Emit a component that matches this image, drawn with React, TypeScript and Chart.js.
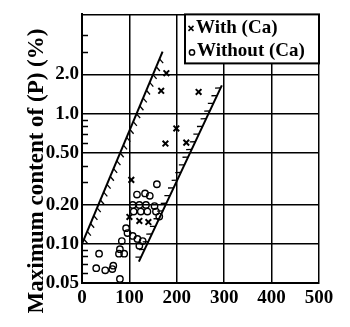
import React, { useEffect, useRef } from 'react';
import { Chart, registerables } from 'chart.js';

Chart.register(...registerables);

// With (Ca): crosses
const withCaX = [178, 167, 246, 199, 176, 220, 104, 100, 121, 140];
const withCaY = [2.05, 1.5, 1.47, 0.77, 0.59, 0.6, 0.31, 0.161, 0.15, 0.147];

// Without (Ca): circles
const withoutCaX = [158, 116, 133, 143, 107, 121, 135, 153, 109, 124, 138, 156, 163, 93, 96, 84, 107, 117, 128, 121, 80, 78, 89, 36, 30, 49, 64, 66, 80];
const withoutCaY = [0.287, 0.239, 0.244, 0.234, 0.199, 0.199, 0.199, 0.195, 0.177, 0.177, 0.177, 0.177, 0.162, 0.132, 0.121, 0.105, 0.115, 0.109, 0.105, 0.0966, 0.091, 0.084, 0.084, 0.084, 0.065, 0.0626, 0.064, 0.068, 0.0537];

// Band boundaries
const bandLeftX = [0, 170];
const bandLeftY = [0.1, 3.0];
const bandRightX = [120, 295];
const bandRightY = [0.073, 1.65];

// Axes
const xTicks = [0, 100, 200, 300, 400, 500];
const yMin = 0.05;
const yMax = 5.8;
const yMajorTicks = [0.05, 0.1, 0.2, 0.5, 1.0, 2.0];
const yTickLabels = ['0.05', '0.10', '0.20', '0.50', '1.0', '2.0'];
const yMinorTicks = [0.06, 0.07, 0.08, 0.09, 0.3, 0.4, 0.6, 0.7, 0.8, 0.9, 3, 4];

const legendLabels = ['With (Ca)', 'Without (Ca)'];
const yTitle = 'Maximum content of (P) (%)';

const FONT = '"Liberation Serif", "Times New Roman", serif';

const toPts = (xs: number[], ys: number[]) => xs.map((x, i) => ({ x, y: ys[i] }));

const minorTickPlugin = {
  id: 'minorTicks',
  beforeDatasetsDraw(chart: any) {
    const { ctx, chartArea } = chart;
    const y = chart.scales.y;
    ctx.save();
    ctx.strokeStyle = '#000';
    ctx.lineWidth = 1.5;
    yMinorTicks.forEach((v) => {
      const py = Math.round(y.getPixelForValue(v)) + 0.5;
      ctx.beginPath();
      ctx.moveTo(chartArea.left, py);
      ctx.lineTo(chartArea.left + 6, py);
      ctx.stroke();
    });
    ctx.restore();
  },
};

const hatchPlugin = {
  id: 'hatch',
  afterDatasetsDraw(chart: any) {
    const { ctx } = chart;
    chart.data.datasets.forEach((ds: any, i: number) => {
      if (!ds.hatchSide) return;
      const meta = chart.getDatasetMeta(i);
      const p0 = meta.data[0];
      const p1 = meta.data[meta.data.length - 1];
      const dx = p1.x - p0.x;
      const dy = p1.y - p0.y;
      const L = Math.hypot(dx, dy);
      const ux = dx / L;
      const uy = dy / L;
      const nx = -uy * ds.hatchSide;
      const ny = ux * ds.hatchSide;
      ctx.save();
      ctx.strokeStyle = '#000';
      ctx.lineWidth = 1.3;
      for (let s = 5; s < L - 2; s += 8.5) {
        const px = p0.x + ux * s;
        const py = p0.y + uy * s;
        ctx.beginPath();
        ctx.moveTo(px, py);
        ctx.lineTo(px + nx * 5 - ux * 2.5, py + ny * 5 - uy * 2.5);
        ctx.stroke();
      }
      ctx.restore();
    });
  },
};

const overlayPlugin = {
  id: 'overlay',
  afterDraw(chart: any) {
    const { ctx, chartArea } = chart;
    ctx.save();
    // legend box
    const w = 134;
    const h = 49;
    const lx = chartArea.right - w;
    const ly = chartArea.top;
    ctx.fillStyle = '#fff';
    ctx.fillRect(lx, ly, w, h);
    ctx.strokeStyle = '#000';
    ctx.lineWidth = 2;
    ctx.strokeRect(lx, ly, w, h);
    // cross marker
    ctx.lineWidth = 1.5;
    const cx = lx + 6;
    const cy = ly + 14;
    ctx.beginPath();
    ctx.moveTo(cx - 2.5, cy - 2.5);
    ctx.lineTo(cx + 2.5, cy + 2.5);
    ctx.moveTo(cx + 2.5, cy - 2.5);
    ctx.lineTo(cx - 2.5, cy + 2.5);
    ctx.stroke();
    // circle marker
    ctx.beginPath();
    ctx.arc(lx + 7, ly + 38, 2.6, 0, Math.PI * 2);
    ctx.stroke();
    ctx.fillStyle = '#000';
    ctx.font = 'bold 19px ' + FONT;
    ctx.textBaseline = 'middle';
    ctx.textAlign = 'left';
    ctx.fillText(legendLabels[0], lx + 11, cy);
    ctx.fillText(legendLabels[1], lx + 12, ly + 37);
    // y title
    const t = chart.options.scales.y.title.text;
    ctx.translate(37, 171);
    ctx.rotate(-Math.PI / 2);
    ctx.textAlign = 'center';
    ctx.font = 'bold 23px ' + FONT;
    ctx.fillText(t, 0, 0);
    ctx.restore();
  },
};

export default function App() {
  const ref = useRef<HTMLCanvasElement | null>(null);

  useEffect(() => {
    if (!ref.current) return;
    const tickFont = { family: FONT, size: 19, weight: 'bold' as const };
    const chart = new Chart(ref.current, {
      type: 'scatter',
      data: {
        datasets: [
          {
            label: legendLabels[0],
            data: toPts(withCaX, withCaY),
            pointStyle: 'crossRot',
            pointRadius: 4,
            borderColor: '#000',
            borderWidth: 2,
            backgroundColor: '#000',
          },
          {
            label: legendLabels[1],
            data: toPts(withoutCaX, withoutCaY),
            pointStyle: 'circle',
            pointRadius: 3.2,
            borderColor: '#000',
            borderWidth: 1.4,
            backgroundColor: 'rgba(255,255,255,0)',
          },
          {
            label: 'band-left',
            data: toPts(bandLeftX, bandLeftY),
            showLine: true,
            pointRadius: 0,
            borderColor: '#000',
            borderWidth: 2,
            hatchSide: 1,
          } as any,
          {
            label: 'band-right',
            data: toPts(bandRightX, bandRightY),
            showLine: true,
            pointRadius: 0,
            borderColor: '#000',
            borderWidth: 2,
            hatchSide: -1,
          } as any,
        ],
      },
      options: {
        animation: false,
        responsive: true,
        maintainAspectRatio: false,
        layout: { padding: { left: 0, right: 31, top: 13, bottom: 0 } },
        plugins: {
          legend: { display: false },
          tooltip: { enabled: false },
        },
        scales: {
          x: {
            type: 'linear',
            min: 0,
            max: 500,
            afterBuildTicks: (s: any) => {
              s.ticks = xTicks.map((v) => ({ value: v }));
            },
            afterFit: (s: any) => {
              s.height = 44;
            },
            ticks: {
              font: tickFont,
              color: '#000',
              padding: 4,
              maxRotation: 0,
              callback: (v: any) => String(v),
            },
            grid: { color: '#000', lineWidth: 1.5, drawTicks: false },
            border: { color: '#000', width: 2 },
          },
          y: {
            type: 'logarithmic',
            min: yMin,
            max: yMax,
            afterBuildTicks: (s: any) => {
              s.ticks = [...yMajorTicks, yMax].map((v) => ({ value: v }));
            },
            afterFit: (s: any) => {
              s.width = 82;
            },
            ticks: {
              font: tickFont,
              color: '#000',
              padding: 3,
              callback: (v: any) => {
                const i = yMajorTicks.findIndex((m) => Math.abs(m - v) / m < 1e-6);
                return i >= 0 ? yTickLabels[i] : '';
              },
            },
            grid: { color: '#000', lineWidth: 1.5, drawTicks: false },
            border: { color: '#000', width: 2 },
            title: { display: false, text: yTitle },
          },
        },
      },
      plugins: [minorTickPlugin, hatchPlugin, overlayPlugin],
    });
    return () => chart.destroy();
  }, []);

  return (
    <div style={{ position: 'fixed', left: 0, top: 0, width: 350, height: 327, background: '#fff' }}>
      <canvas ref={ref} />
    </div>
  );
}
